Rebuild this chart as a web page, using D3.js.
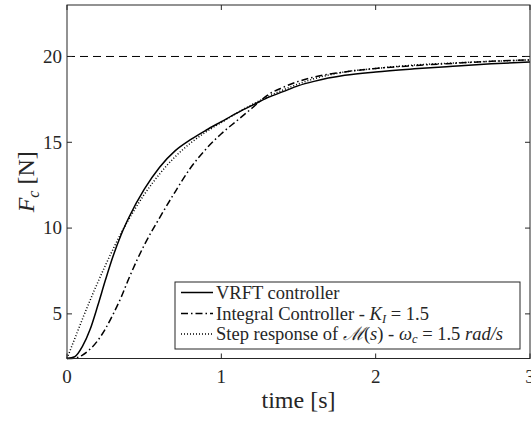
<!DOCTYPE html>
<html>
<head>
<meta charset="utf-8">
<script src="https://cdn.jsdelivr.net/npm/d3@7"></script>
<style>
  html, body { margin: 0; padding: 0; background: #fff; }
  svg text { font-family: "Liberation Serif", "Times New Roman", serif; fill: #262626; }
</style>
</head>
<body>
<div id="container"></div>
<script>
const width = 531;
const height = 422;
const marginTop = 5;
const marginRight = 1;
const marginBottom = 63.5;
const marginLeft = 67;

// time axis [s]
const time = [0, 0.05, 0.1, 0.15, 0.2, 0.25, 0.3, 0.35, 0.4, 0.5, 0.6, 0.7, 0.8, 0.9,
  1.0, 1.1, 1.2, 1.3, 1.4, 1.5, 1.6, 1.8, 2.0, 2.25, 2.5, 2.75, 3.0];

// F_c [N]
const vrft = [2.4, 2.5, 3.1, 4.1, 5.5, 7.0, 8.4, 9.6, 10.6, 12.25, 13.55, 14.5, 15.15, 15.7,
  16.2, 16.7, 17.15, 17.6, 17.95, 18.3, 18.55, 18.9, 19.1, 19.28, 19.43, 19.57, 19.68];
const integral = [2.4, 2.42, 2.6, 2.95, 3.45, 4.15, 5.0, 5.95, 7.05, 9.0, 10.6, 12.1, 13.5, 14.6,
  15.5, 16.25, 17.0, 17.75, 18.2, 18.55, 18.8, 19.1, 19.3, 19.47, 19.6, 19.72, 19.8];
const stepM = [2.4, 3.55, 4.7, 5.8, 6.85, 7.85, 8.8, 9.7, 10.5, 11.95, 13.15, 14.15, 14.95, 15.6,
  16.15, 16.7, 17.2, 17.65, 18.05, 18.4, 18.7, 19.1, 19.3, 19.5, 19.62, 19.72, 19.8];

const reference = 20;
const xTicks = [0, 1, 2, 3];
const yTicks = [5, 10, 15, 20];
const xDomain = [0, 3];
const yDomain = [2.4, 23];

const x = d3.scaleLinear().domain(xDomain).range([marginLeft, width - marginRight]);
const y = d3.scaleLinear().domain(yDomain).range([height - marginBottom, marginTop]);

const svg = d3.create("svg")
  .attr("width", width)
  .attr("height", height)
  .attr("viewBox", [0, 0, width, height]);

const axisColor = "#262626";
const tickLen = 5;

// reference line
svg.append("line")
  .attr("x1", x(xDomain[0])).attr("x2", x(xDomain[1]))
  .attr("y1", y(reference)).attr("y2", y(reference))
  .attr("stroke", "#000").attr("stroke-width", 1)
  .attr("stroke-dasharray", "8,5");

const line = d3.line()
  .x((d, i) => x(time[i]))
  .y(d => y(d))
  .curve(d3.curveMonotoneX);

const series = [
  { name: "VRFT", values: vrft, dash: null },
  { name: "Integral", values: integral, dash: "7,3,1.5,3" },
  { name: "Step", values: stepM, dash: "1,2" }
];

svg.append("g")
  .selectAll("path")
  .data(series)
  .join("path")
    .attr("fill", "none")
    .attr("stroke", "#000")
    .attr("stroke-width", 1.5)
    .attr("stroke-dasharray", d => d.dash)
    .attr("d", d => line(d.values));

// box + ticks
const x0 = x(xDomain[0]), x1 = x(xDomain[1]), y0 = y(yDomain[0]), y1 = y(yDomain[1]);
svg.append("rect")
  .attr("x", x0).attr("y", y1)
  .attr("width", x1 - x0).attr("height", y0 - y1)
  .attr("fill", "none").attr("stroke", axisColor).attr("stroke-width", 1);

const ticks = svg.append("g").attr("stroke", axisColor).attr("stroke-width", 1);
xTicks.forEach(t => {
  ticks.append("line").attr("x1", x(t)).attr("x2", x(t)).attr("y1", y0).attr("y2", y0 - tickLen);
  ticks.append("line").attr("x1", x(t)).attr("x2", x(t)).attr("y1", y1).attr("y2", y1 + tickLen);
});
yTicks.forEach(t => {
  ticks.append("line").attr("x1", x0).attr("x2", x0 + tickLen).attr("y1", y(t)).attr("y2", y(t));
  ticks.append("line").attr("x1", x1).attr("x2", x1 - tickLen).attr("y1", y(t)).attr("y2", y(t));
});

svg.append("g")
  .selectAll("text")
  .data(xTicks)
  .join("text")
    .attr("x", d => x(d))
    .attr("y", 383)
    .attr("text-anchor", "middle")
    .attr("font-size", 19)
    .text(d => d);

svg.append("g")
  .selectAll("text")
  .data(yTicks)
  .join("text")
    .attr("x", x0 - 5)
    .attr("y", d => y(d))
    .attr("dy", "0.33em")
    .attr("text-anchor", "end")
    .attr("font-size", 19)
    .text(d => d);

// axis labels
svg.append("text")
  .attr("x", (x0 + x1) / 2)
  .attr("y", 408)
  .attr("text-anchor", "middle")
  .attr("font-size", 24)
  .text("time [s]");

const yl = svg.append("text")
  .attr("transform", `translate(34,${(y0 + y1) / 2}) rotate(-90)`)
  .attr("text-anchor", "middle")
  .attr("font-size", 24);
yl.append("tspan").attr("font-style", "italic").text("F");
yl.append("tspan").attr("font-style", "italic").attr("font-size", 16).attr("dy", 5).text("c");
yl.append("tspan").attr("dy", -5).text(" [N]");

// legend
const lg = svg.append("g");
const lgX = 175, lgY = 282, lgW = 345, lgH = 67;
lg.append("rect")
  .attr("x", lgX).attr("y", lgY).attr("width", lgW).attr("height", lgH)
  .attr("fill", "#fff").attr("stroke", axisColor).attr("stroke-width", 1);

const rowY = [292.5, 313.5, 334];
series.forEach((s, i) => {
  lg.append("line")
    .attr("x1", lgX + 6).attr("x2", lgX + 38)
    .attr("y1", rowY[i]).attr("y2", rowY[i])
    .attr("stroke", "#000").attr("stroke-width", 1.5)
    .attr("stroke-dasharray", s.dash);
});

const fs = 18.5;
const sub = 12.5;
const t0 = lg.append("text").attr("x", lgX + 41).attr("y", rowY[0]).attr("dy", "0.33em").attr("font-size", fs);
t0.text("VRFT controller");

const t1 = lg.append("text").attr("x", lgX + 41).attr("y", rowY[1]).attr("dy", "0.33em").attr("font-size", fs);
t1.append("tspan").text("Integral Controller - ");
t1.append("tspan").attr("font-style", "italic").text("K");
t1.append("tspan").attr("font-style", "italic").attr("font-size", sub).attr("dy", 3).text("I");
t1.append("tspan").attr("dy", -3).text(" = 1.5");

const t2 = lg.append("text").attr("x", lgX + 41).attr("y", rowY[2]).attr("dy", "0.33em").attr("font-size", fs);
t2.append("tspan").text("Step response of ");
t2.append("tspan").attr("font-style", "italic").text("ℳ");
t2.append("tspan").text("(");
t2.append("tspan").attr("font-style", "italic").text("s");
t2.append("tspan").text(") - ");
t2.append("tspan").attr("font-style", "italic").text("ω");
t2.append("tspan").attr("font-style", "italic").attr("font-size", sub).attr("dy", 3).text("c");
t2.append("tspan").attr("dy", -3).text(" = 1.5 ");
t2.append("tspan").attr("font-style", "italic").text("rad/s");

document.getElementById("container").appendChild(svg.node());
</script>
</body>
</html>
